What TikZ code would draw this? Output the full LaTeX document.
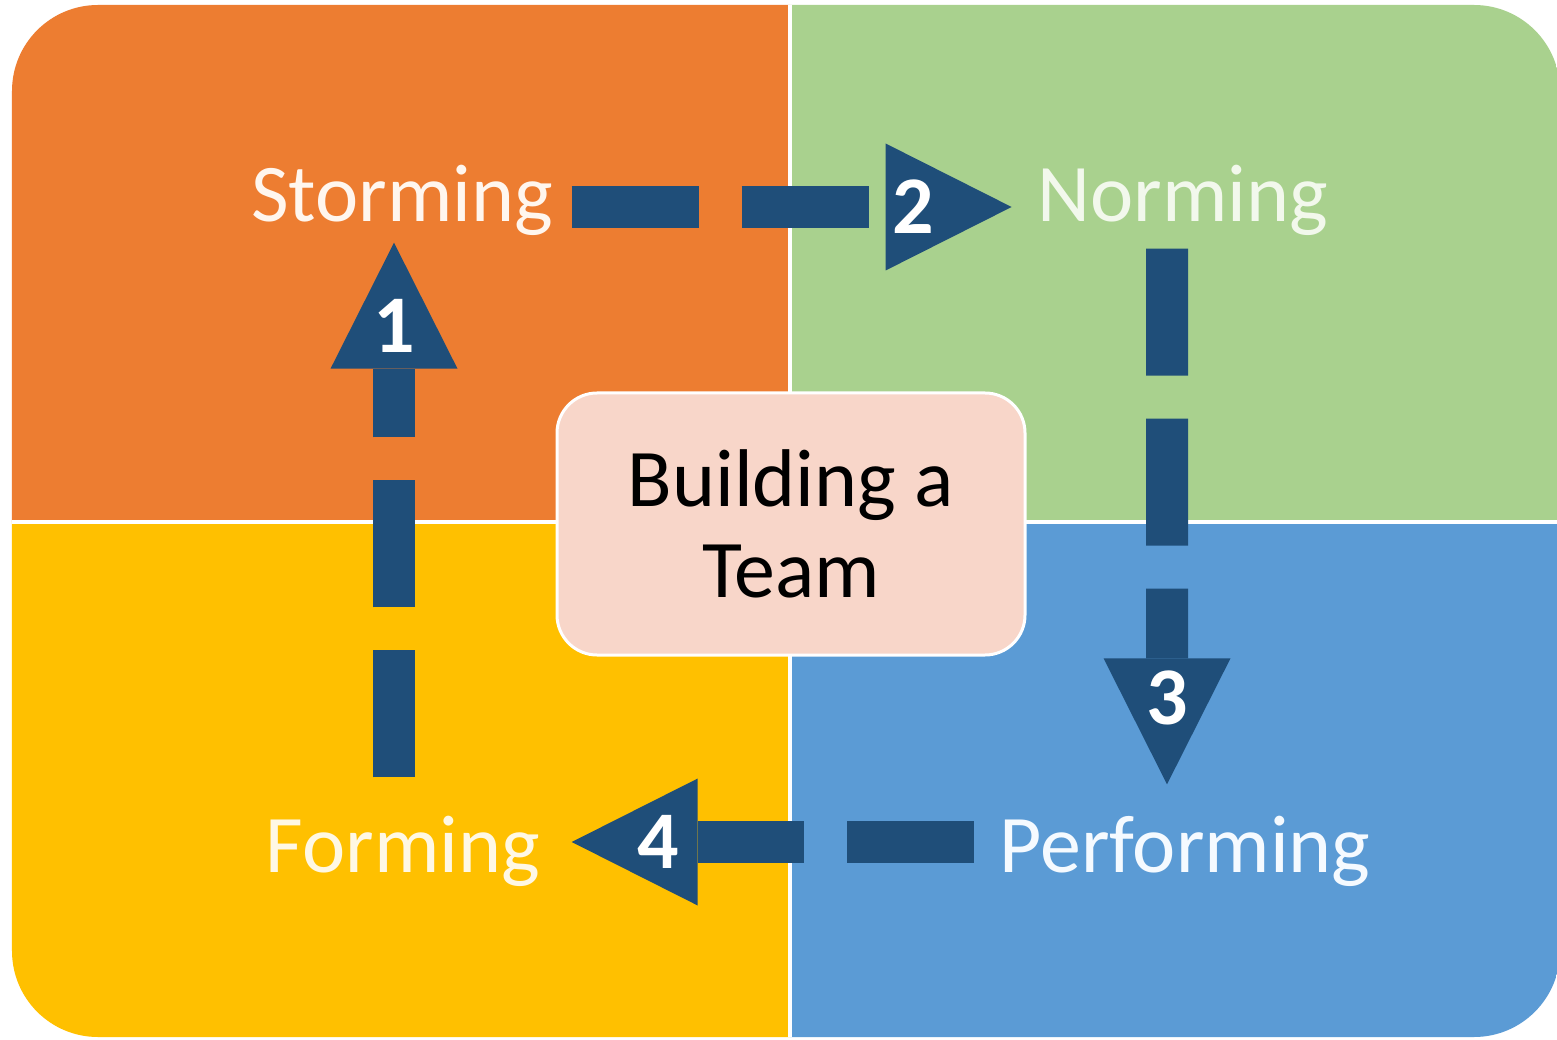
\documentclass[tikz,border=0pt]{standalone}
\usepackage{fontspec}
\setmainfont{Carlito}
\usetikzlibrary{positioning}
\usetikzlibrary{arrows.meta}

\definecolor{stormOrange}{RGB}{237,125,49}
\definecolor{normGreen}{RGB}{169,209,142}
\definecolor{formYellow}{RGB}{255,192,0}
\definecolor{perfBlue}{RGB}{91,155,213}
\definecolor{arrowBlue}{RGB}{31,78,121}
\definecolor{teamPink}{RGB}{248,214,201}
\definecolor{stormText}{RGB}{255,246,238}
\definecolor{normText}{RGB}{242,248,236}
\definecolor{formText}{RGB}{255,248,228}
\definecolor{perfText}{RGB}{245,250,255}

\begin{document}
\begin{tikzpicture}[
  stageLabel/.style={inner sep=0pt, anchor=base, text height=0.55cm, text depth=0.15cm, font=\fontsize{23.3}{26}\selectfont},
  stageArrow/.style={draw=arrowBlue, line width=0.42cm, dash pattern=on 1.27cm off 0.43cm, -{Triangle[length=1.26cm,width=1.27cm,line width=0pt]}},
  stageNum/.style={inner sep=0pt, text=white, font=\fontsize{23.3}{26}\selectfont\bfseries}
]
\useasboundingbox (0,0) rectangle (15.57,10.39);
\fill[white] (0,0) rectangle (15.57,10.39);

% four quadrants
\begin{scope}
\clip[rounded corners=0.86cm] (0.12,0.02) rectangle (15.60,10.34);
\fill[stormOrange] (0,5.17) rectangle (7.90,10.39);
\fill[normGreen] (7.90,5.17) rectangle (15.60,10.39);
\fill[formYellow] (0,0) rectangle (7.90,5.17);
\fill[perfBlue] (7.90,0) rectangle (15.60,5.17);
\draw[white, line width=0.04cm] (7.90,0) -- (7.90,10.39);
\draw[white, line width=0.04cm] (0,5.17) -- (15.60,5.17);
\end{scope}

\node[stageLabel, text=stormText] (storming) at (4.02,8.17) {Storming};
\node[stageLabel, text=normText] (norming) at (11.83,8.17) {Norming};
\node[stageLabel, text=formText] (forming) at (4.03,1.67) {Forming};
\node[stageLabel, text=perfText] (performing) at (11.85,1.67) {Performing};

\node[draw=white, line width=0.03cm, fill=teamPink, rounded corners=0.4cm, minimum width=4.68cm, minimum height=2.62cm, align=center, font=\fontsize{23.3}{25.9}\selectfont] (team) at (7.91,5.15) {Building a\\Team};

\draw[stageArrow, shorten <=0.39cm, shorten >=0.05cm] ([xshift=-0.09cm]forming.north) -- node[stageNum, pos=0.848] {1} ([xshift=-0.08cm]storming.south);
\draw[stageArrow, shorten <=0.18cm, shorten >=0.255cm] ([yshift=-0.05cm]storming.east) -- node[stageNum, pos=0.743] {2} ([yshift=-0.05cm]norming.west);
\draw[stageArrow, shorten <=0.11cm, shorten >=0.32cm] ([xshift=-0.16cm]norming.south) -- node[stageNum, pos=0.795] {3} ([xshift=-0.18cm]performing.north);
\draw[stageArrow, shorten <=0.25cm, shorten >=0.31cm] ([yshift=0.10cm]performing.west) -- node[stageNum, pos=0.744] {4} ([yshift=0.10cm]forming.east);

\end{tikzpicture}
\end{document}
